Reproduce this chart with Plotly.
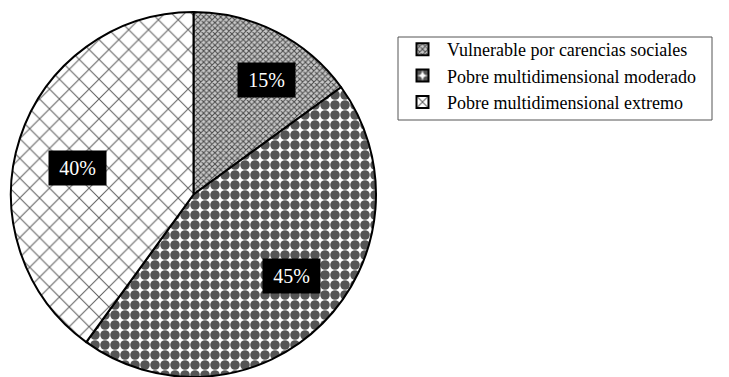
import numpy as np
import plotly.graph_objects as go

labels = ["Vulnerable por carencias sociales", "Pobre multidimensional moderado", "Pobre multidimensional extremo"]
values = [15, 45, 40]
text_labels = ["15%", "45%", "40%"]

# label placement style (fraction of radius, angular offset in degrees from mid-angle)
label_rfrac = [0.745, 0.70, 0.65]
label_dang = [5.5, -5.3, -5.0]

FONT = "Liberation Serif"
W, H = 729, 377
left, right, top = 10, 377, 12
dom_x = [left / W, right / W]
dom_y = [0, 1 - top / H]

patterns = [
    dict(shape="x", size=4, solidity=0.45, fgcolor="#4a4a4a", bgcolor="#c8c8c8"),
    dict(shape=".", size=10, solidity=0.72, fgcolor="#555555", bgcolor="#ffffff"),
    dict(shape="x", size=14, solidity=0.14, fgcolor="#5e5e5e", bgcolor="#ffffff"),
]

fig = go.Figure()
fig.add_trace(go.Pie(
    labels=labels, values=values, sort=False, direction="clockwise", rotation=0,
    domain=dict(x=dom_x, y=dom_y), textinfo="none", hoverinfo="label+percent",
    marker=dict(colors=["#9a9a9a", "#5a5a5a", "#ffffff"],
                line=dict(color="#000000", width=2),
                pattern=dict(shape=[p["shape"] for p in patterns],
                             size=[p["size"] for p in patterns],
                             solidity=[p["solidity"] for p in patterns],
                             fgcolor=[p["fgcolor"] for p in patterns],
                             bgcolor=[p["bgcolor"] for p in patterns],
                             fillmode="replace")),
))

cx_px = (left + right) / 2
r_px = min(right - left, H - top) / 2
cy_px = top + r_px
total = sum(values)
cum = 0
for v, t, rf, da in zip(values, text_labels, label_rfrac, label_dang):
    mid = (cum + v / 2) / total * 2 * np.pi + np.deg2rad(da)
    cum += v
    px = cx_px + rf * r_px * np.sin(mid)
    py = cy_px - rf * r_px * np.cos(mid)
    fig.add_annotation(x=px / W, y=1 - py / H, xref="paper", yref="paper",
                       xanchor="center", yanchor="middle",
                       text=t, showarrow=False, bgcolor="#000000",
                       font=dict(family=FONT, size=20, color="#ffffff"),
                       width=45, height=22, borderpad=6)

# legend frame
leg_l, leg_r, leg_t, leg_b = 398, 712, 37, 120
fig.add_shape(type="rect", xref="paper", yref="paper",
              x0=leg_l / W, x1=leg_r / W, y0=1 - leg_b / H, y1=1 - leg_t / H,
              line=dict(color="#555555", width=1), fillcolor="rgba(0,0,0,0)", layer="below")

fig.update_layout(
    width=W, height=H, margin=dict(l=0, r=0, t=0, b=0),
    paper_bgcolor="#ffffff", plot_bgcolor="#ffffff",
    font=dict(family=FONT, color="#000000"),
    showlegend=True,
    legend=dict(x=leg_l / W, y=1 - (leg_t - 6) / H, xanchor="left", yanchor="top",
                borderwidth=0, bgcolor="rgba(0,0,0,0)",
                font=dict(family=FONT, size=18, color="#000000"),
                tracegroupgap=0, itemwidth=39),
)

fig.write_html("out.html")
